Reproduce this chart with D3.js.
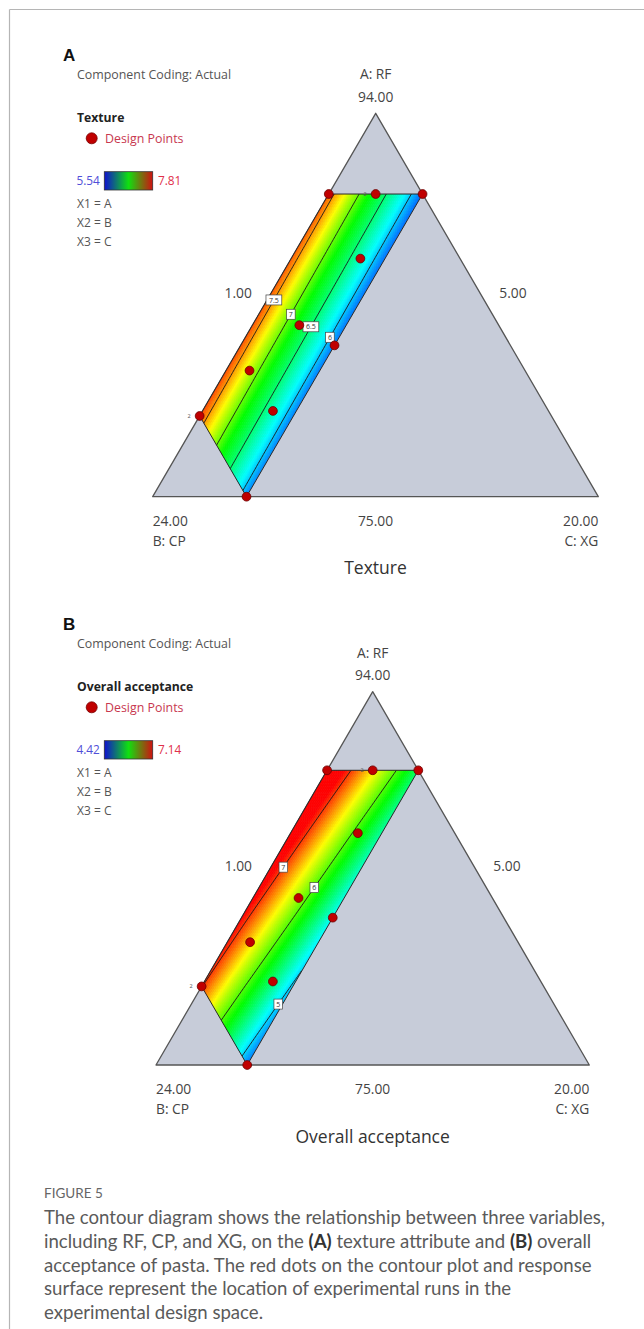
<!DOCTYPE html>
<html><head><meta charset="utf-8">
<script src="https://cdn.jsdelivr.net/npm/d3@7"></script>
<style>body{margin:0;background:#fff}svg{display:block}</style>
</head><body>
<svg id="c" width="644" height="1329"></svg>
<script>
// ================= DATA =================
const componentNames = ["A: RF", "B: CP", "C: XG"];
const vertexValues   = ["94.00", "24.00", "20.00"];
const sideValues     = ["1.00", "5.00", "75.00"];   // left side, right side, bottom
const lowerBounds    = [75, 5, 1];                  // RF, CP, XG (actual %)
const upperBounds    = [94, 24, 20];
const constraintRFMax = 90;
const constraintCPMax = 20;
const constraintXG    = [1, 5];

// design points (actual %)
const designRF = [90, 90, 90, 86.8, 83.5, 82.5, 81.25, 79, 79.25, 75];
const designCP = [9, 7, 5, 9.25, 13.5, 12.5, 16.75, 20, 16.75, 20];
const designXG = [1, 3, 5, 3.95, 3, 5, 2, 1, 4, 5];
const replicateIndex = [1, 7];
const replicateText  = ["2", "2"];

// Texture response read on an (RF, XG) grid
const textureRF = [75, 90];
const textureXG = [1, 1.5, 2, 2.5, 3, 3.5, 4, 4.5, 5];
const textureValues = [
  [7.69, 7.45, 7.21, 6.99, 6.77, 6.56, 6.32, 6.09, 5.86],
  [7.61, 7.37, 7.13, 6.91, 6.69, 6.48, 6.24, 6.01, 5.78]
];
const textureRange = [5.54, 7.81];
const textureColorStops = [5.54, 6.12, 6.8, 7.28, 7.81];
const textureLevels = [7.5, 7, 6.5, 6];
const textureLevelText = ["7.5", "7", "6.5", "6"];

// Overall acceptance response read on an (RF, XG) grid
const acceptRF = [75, 79, 82.6, 86.4, 90];
const acceptXG = [1, 2.33, 3.66, 5];
const acceptValues = [
  [6.85, 6.08, 5.42, 4.75],
  [7.02, 6.28, 5.62, 4.95],
  [7.16, 6.48, 5.81, 5.14],
  [7.34, 6.67, 6.00, 5.34],
  [7.52, 6.86, 6.19, 5.52]
];
const acceptRange = [4.42, 7.14];
const acceptColorStops = [4.42, 5.10, 5.78, 6.46, 7.14];
const acceptLevels = [7, 6, 5];
const acceptLevelText = ["7", "6", "5"];

const captionHead = "FIGURE 5";
const captionLines = [
  [["The contour diagram shows the relationship between three variables,", 0]],
  [["including RF, CP, and XG, on the ", 0], ["(A)", 1], [" texture attribute and ", 0], ["(B)", 1], [" overall", 0]],
  [["acceptance of pasta. The red dots on the contour plot and response", 0]],
  [["surface represent the location of experimental runs in the", 0]],
  [["experimental design space.", 0]]
];

// ================= LAYOUT =================
const FONT = "'Open Sans','Noto Sans',sans-serif";
const LEG = 12.4;
const panels = [
  { letter: "A", title: "Texture", legendTop: 0,
    apex: [375.7, 113.3], bl: [152.7, 496.7], br: [598.3, 496.7],
    rfAxis: textureRF, xgAxis: textureXG, table: textureValues, range: textureRange, stops: textureColorStops,
    levels: textureLevels, levelText: textureLevelText, labelRF: [84.75, 84.04, 83.42, 82.9] },
  { letter: "B", title: "Overall acceptance", legendTop: 569,
    apex: [372.7, 691.7], bl: [156, 1065], br: [589.3, 1065],
    rfAxis: acceptRF, xgAxis: acceptXG, table: acceptValues, range: acceptRange, stops: acceptColorStops,
    levels: acceptLevels, levelText: acceptLevelText, labelRF: [85.07, 84.03, 78.1] }
];

const svg = d3.select("#c");
const defs = svg.append("defs");

// frame
svg.append("line").attr("x1", 9.5).attr("x2", 644).attr("y1", 9.5).attr("y2", 9.5).attr("stroke", "#b5b5b5").attr("stroke-width", 1.2);
svg.append("line").attr("x1", 9.5).attr("x2", 9.5).attr("y1", 9.5).attr("y2", 1329).attr("stroke", "#b5b5b5").attr("stroke-width", 1.2);

const sA = d3.scaleLinear().domain([lowerBounds[0], upperBounds[0]]).range([0, 1]);
const sB = d3.scaleLinear().domain([lowerBounds[1], upperBounds[1]]).range([0, 1]);
const sC = d3.scaleLinear().domain([lowerBounds[2], upperBounds[2]]).range([0, 1]);

function interp2(rfAxis, xgAxis, table, rf, xg) {
  function locate(axis, v) {
    let i = d3.bisectRight(axis, v) - 1;
    i = Math.max(0, Math.min(axis.length - 2, i));
    const t = (v - axis[i]) / (axis[i + 1] - axis[i]);
    return [i, i + 1, t];
  }
  const [i0, i1, tr] = locate(rfAxis, rf);
  const [j0, j1, tx] = locate(xgAxis, xg);
  const v00 = table[i0][j0], v01 = table[i0][j1], v10 = table[i1][j0], v11 = table[i1][j1];
  return (v00 * (1 - tx) + v01 * tx) * (1 - tr) + (v10 * (1 - tx) + v11 * tx) * tr;
}

panels.forEach((p, pi) => {
  const g = svg.append("g");
  const L = p.legendTop;
  function xy(rf, cp, xg) {
    const a = sA(rf), b = sB(cp), c = sC(xg);
    return [a * p.apex[0] + b * p.bl[0] + c * p.br[0], a * p.apex[1] + b * p.bl[1] + c * p.br[1]];
  }
  const xyRX = (rf, xg) => xy(rf, 100 - rf - xg, xg);

  const [vmin, vmax] = p.range;
  const color = d3.scaleLinear()
    .domain(p.stops)
    .range(["#0000ff", "#00ffff", "#00ff00", "#ffff00", "#ff0000"])
    .clamp(true);

  // ---- legend ----
  g.append("text").attr("x", 63).attr("y", L + 61).text(p.letter)
    .attr("font-family", "'Liberation Sans',Arial,sans-serif").attr("font-weight", "bold").attr("font-size", 17).attr("fill", "#111");
  g.append("text").attr("x", 77).attr("y", L + 79.3).text("Component Coding: Actual")
    .attr("font-family", FONT).attr("font-size", LEG).attr("fill", "#555");
  g.append("text").attr("x", 77).attr("y", L + 121.5).text(p.title)
    .attr("font-family", FONT).attr("font-weight", "bold").attr("font-size", LEG - 0.2).attr("fill", "#222");
  g.append("circle").attr("cx", 91.7).attr("cy", L + 138.3).attr("r", 5.5).attr("fill", "#c00000").attr("stroke", "#700").attr("stroke-width", 0.8);
  g.append("text").attr("x", 105).attr("y", L + 142.7).text("Design Points")
    .attr("font-family", FONT).attr("font-size", LEG).attr("fill", "#c8384f");
  const gid = "lg" + pi;
  const lg = defs.append("linearGradient").attr("id", gid);
  [["0%", "#1010d0"], ["50%", "#10e010"], ["100%", "#d01010"]].forEach(s => lg.append("stop").attr("offset", s[0]).attr("stop-color", s[1]));
  g.append("rect").attr("x", 104.3).attr("y", L + 171.7).attr("width", 48.4).attr("height", 18.3)
    .attr("fill", `url(#${gid})`).attr("stroke", "#333").attr("stroke-width", 0.8);
  g.append("text").attr("x", 76.5).attr("y", L + 185).text(d3.format(".2f")(vmin))
    .attr("font-family", FONT).attr("font-size", LEG - 0.6).attr("fill", "#5050d8");
  g.append("text").attr("x", 158).attr("y", L + 185).text(d3.format(".2f")(vmax))
    .attr("font-family", FONT).attr("font-size", LEG - 0.6).attr("fill", "#e0304a");
  ["X1 = A", "X2 = B", "X3 = C"].forEach((t, i) => {
    g.append("text").attr("x", 77).attr("y", L + 207.5 + i * 19.3).text(t)
      .attr("font-family", FONT).attr("font-size", LEG - 0.4).attr("fill", "#555");
  });

  // ---- triangle ----
  g.append("path").attr("d", "M" + [p.apex, p.bl, p.br].join("L") + "Z")
    .attr("fill", "#c7ccd9").attr("stroke", "#555").attr("stroke-width", 1.3).attr("stroke-linejoin", "round");

  // ---- feasible region ----
  const regionRX = [
    [constraintRFMax, constraintXG[0]],
    [constraintRFMax, constraintXG[1]],
    [100 - constraintCPMax - constraintXG[1], constraintXG[1]],
    [100 - constraintCPMax - constraintXG[0], constraintXG[0]]
  ];
  const regionPts = regionRX.map(d => xyRX(d[0], d[1]));
  const cid = "clip" + pi;
  defs.append("clipPath").attr("id", cid).append("path").attr("d", "M" + regionPts.join("L") + "Z");
  const fillG = g.append("g").attr("clip-path", `url(#${cid})`);

  const rfLo = d3.min(regionRX, d => d[0]), rfHi = constraintRFMax;
  const N = 100, M = 48;
  const rfS = d3.range(N + 1).map(i => rfLo + i * (rfHi - rfLo) / N);
  const xgS = d3.range(M + 1).map(j => constraintXG[0] + j * (constraintXG[1] - constraintXG[0]) / M);
  const cells = [];
  for (let i = 0; i < N; i++) for (let j = 0; j < M; j++) {
    if (rfS[i + 1] + xgS[j + 1] < 100 - constraintCPMax - 0.01) continue;
    const v = interp2(p.rfAxis, p.xgAxis, p.table, (rfS[i] + rfS[i + 1]) / 2, (xgS[j] + xgS[j + 1]) / 2);
    cells.push({ pts: [xyRX(rfS[i], xgS[j]), xyRX(rfS[i], xgS[j + 1]), xyRX(rfS[i + 1], xgS[j + 1]), xyRX(rfS[i + 1], xgS[j])], v });
  }
  fillG.selectAll("path.cell").data(cells).join("path").attr("class", "cell")
    .attr("d", d => "M" + d.pts.join("L") + "Z")
    .attr("fill", d => color(d.v)).attr("stroke", d => color(d.v)).attr("stroke-width", 0.6);

  // contour lines: for each RF row, find XG crossing
  function crossing(rf, level) {
    const xgF = d3.range(201).map(j => constraintXG[0] + j * (constraintXG[1] - constraintXG[0]) / 200);
    for (let j = 0; j < 200; j++) {
      const v0 = interp2(p.rfAxis, p.xgAxis, p.table, rf, xgF[j]);
      const v1 = interp2(p.rfAxis, p.xgAxis, p.table, rf, xgF[j + 1]);
      if ((v0 - level) * (v1 - level) <= 0 && v0 !== v1) return xgF[j] + (level - v0) / (v1 - v0) * (xgF[j + 1] - xgF[j]);
    }
    return null;
  }
  const line = d3.line().defined(d => d !== null);
  p.levels.forEach(level => {
    const pts = rfS.map(rf => { const x = crossing(rf, level); return x === null ? null : xyRX(rf, x); });
    fillG.append("path").attr("d", line(pts)).attr("fill", "none").attr("stroke", "#1a1a1a").attr("stroke-width", 0.9);
  });

  g.append("path").attr("d", "M" + regionPts.join("L") + "Z").attr("fill", "none").attr("stroke", "#2a2a2a").attr("stroke-width", 1);

  // contour labels
  p.levels.forEach((level, k) => {
    const xg = crossing(p.labelRF[k], level);
    if (xg === null) return;
    const [x, y] = xyRX(p.labelRF[k], xg);
    const t = p.levelText[k];
    const w = 5 + t.length * 3.6;
    g.append("rect").attr("x", x - w / 2).attr("y", y - 5).attr("width", w).attr("height", 10)
      .attr("fill", "#fff").attr("stroke", "#444").attr("stroke-width", 0.7);
    g.append("text").attr("x", x).attr("y", y + 2.6).attr("text-anchor", "middle").text(t)
      .attr("font-family", FONT).attr("font-size", 7).attr("fill", "#333");
  });

  // design points
  designRF.forEach((rf, i) => {
    const [x, y] = xy(rf, designCP[i], designXG[i]);
    g.append("circle").attr("cx", x).attr("cy", y).attr("r", 4.4)
      .attr("fill", "#c00000").attr("stroke", "#6a0000").attr("stroke-width", 0.8);
  });
  replicateIndex.forEach((idx, k) => {
    const [x, y] = xy(designRF[idx], designCP[idx], designXG[idx]);
    g.append("text").attr("x", x - 9).attr("y", y + 2).attr("text-anchor", "end").text(replicateText[k])
      .attr("font-family", FONT).attr("font-size", 5.5).attr("fill", "#555");
  });

  // triangle labels
  const tl = (x, y, t, anchor, size, col) => g.append("text").attr("x", x).attr("y", y).attr("text-anchor", anchor)
    .attr("dominant-baseline", "central").text(t).attr("font-family", FONT).attr("font-size", size).attr("fill", col || "#444");
  tl(p.apex[0], p.apex[1] - 39.5, componentNames[0], "middle", 13.8);
  tl(p.apex[0], p.apex[1] - 17, vertexValues[0], "middle", 13.8);
  const lm = [(p.apex[0] + p.bl[0]) / 2, (p.apex[1] + p.bl[1]) / 2];
  const rm = [(p.apex[0] + p.br[0]) / 2, (p.apex[1] + p.br[1]) / 2];
  tl(lm[0] - 26, lm[1] - 13, sideValues[0], "middle", 13.8);
  tl(rm[0] + 26, rm[1] - 13, sideValues[1], "middle", 13.8);
  const by = p.bl[1];
  tl(p.bl[0], by + 23.8, vertexValues[1], "start", 13.8);
  tl(p.bl[0], by + 43.7, componentNames[1], "start", 13.8);
  tl((p.bl[0] + p.br[0]) / 2, by + 23.8, sideValues[2], "middle", 13.8);
  tl(p.br[0], by + 23.8, vertexValues[2], "end", 13.8);
  tl(p.br[0], by + 43.7, componentNames[2], "end", 13.8);
  tl((p.bl[0] + p.br[0]) / 2, by + 70.5, p.title, "middle", 17.5, "#333");
});

// caption
const cap = svg.append("g").attr("font-family", "Lato,'Open Sans',sans-serif").attr("fill", "#5a5a5a");
cap.append("text").attr("x", 44).attr("y", 1198).text(captionHead).attr("font-size", 13.5).attr("fill", "#666");
captionLines.forEach((parts, i) => {
  const t = cap.append("text").attr("x", 44).attr("y", 1224 + i * 23.8).attr("font-size", 18.6);
  parts.forEach(([s, b]) => t.append("tspan").text(s).attr("font-weight", b ? "bold" : null).attr("fill", b ? "#333" : null));
});
</script>
</body></html>
